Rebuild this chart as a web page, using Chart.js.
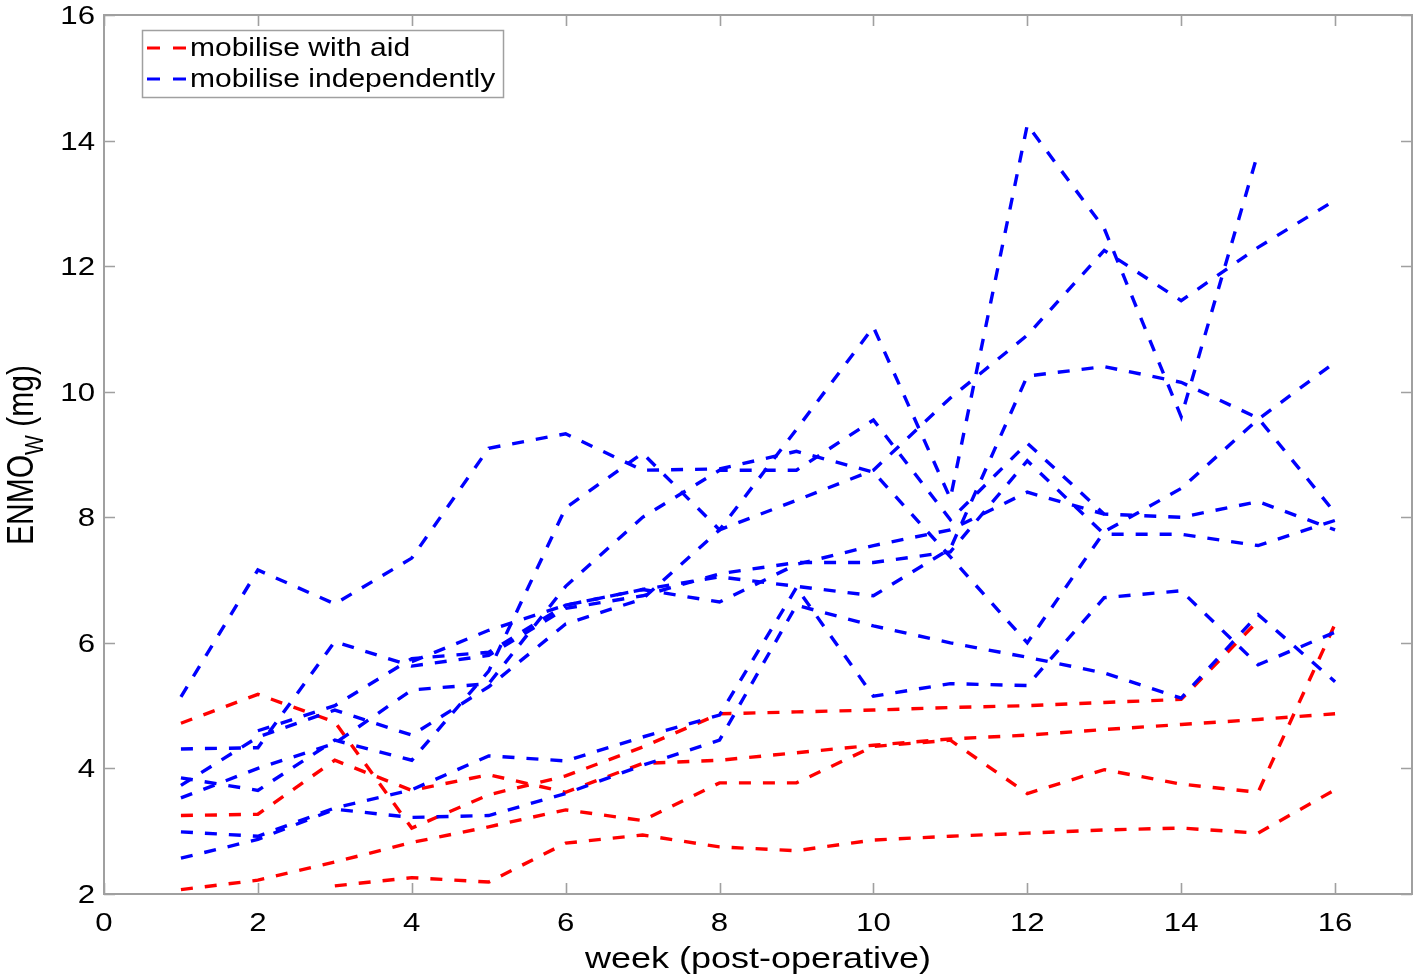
<!DOCTYPE html>
<html><head><meta charset="utf-8">
<script src="https://cdn.jsdelivr.net/npm/chart.js@4.4.1/dist/chart.umd.min.js"></script>
<style>html,body{margin:0;padding:0;background:#fff;}#wrap{width:1418px;height:979px;}</style>
</head><body><div id="wrap"><canvas id="c" width="1418" height="979"></canvas></div>
<script>
// ---- data ----
const weeks = [1,2,3,4,5,6,7,8,9,10,11,12,13,14,15,16];
const xTicks = [0,2,4,6,8,10,12,14,16];
const yTicks = [2,4,6,8,10,12,14,16];
const xTitle = 'week (post-operative)';
const yTitleMain = 'ENMO', yTitleSub = 'W', yTitleUnit = ' (mg)';
const legendAid = 'mobilise with aid';
const legendInd = 'mobilise independently';

// mobilise with aid (red)
const aid1 = [4.72,5.18,4.74,3.05,3.58,3.88,4.34,4.87,4.90,4.93,4.97,5.00,5.05,5.10,6.35,null];
const aid2 = [3.25,3.27,4.13,3.65,3.90,3.62,4.08,4.13,4.25,4.37,4.47,4.53,4.62,4.70,4.78,4.87];
const aid3 = [2.07,2.22,2.51,2.82,3.07,3.34,3.17,3.77,3.77,4.35,4.45,3.60,3.98,3.75,3.62,6.30];
const aid4 = [null,null,2.13,2.26,2.19,2.81,2.94,2.75,2.69,2.86,2.92,2.97,3.02,3.05,2.97,3.66];

// mobilise independently (blue)
const ind1 = [5.14,7.16,6.62,7.35,9.10,9.33,8.75,8.77,9.05,8.72,7.37,6.00,7.77,8.46,9.56,10.47];
const ind2 = [3.85,3.65,4.45,4.13,5.55,8.15,9.02,7.80,9.40,11.03,8.30,14.25,12.60,9.60,13.81,null];
const ind3 = [3.73,4.50,4.93,4.53,5.30,6.30,6.70,7.80,8.27,8.75,9.90,10.90,12.25,11.45,12.30,13.05];
const ind4 = [3.53,4.00,4.40,5.25,5.35,6.90,8.00,8.75,8.75,9.55,7.96,9.18,8.05,8.00,8.25,7.80];
const ind5 = [4.31,4.33,6.02,5.63,5.80,6.55,6.75,7.10,7.28,7.28,7.45,8.90,7.73,7.73,7.55,7.95];
const ind6 = [null,4.60,5.00,5.75,5.85,6.60,6.85,7.05,6.90,6.75,7.50,10.25,10.40,10.15,9.58,8.07];
const ind7 = [null,null,null,5.70,6.20,6.60,6.85,6.65,7.25,7.55,7.80,8.40,8.05,null,null,null];
const ind8 = [2.99,2.92,3.37,3.66,4.20,4.12,4.50,4.85,6.88,5.15,5.35,5.32,6.72,6.83,5.65,6.17];
const ind9 = [2.57,2.87,3.35,3.22,3.25,3.60,4.05,4.45,6.60,6.27,6.00,5.77,5.52,5.12,6.45,5.38];

const aidSeries = [aid1,aid2,aid3,aid4];
const indSeries = [ind1,ind2,ind3,ind4,ind5,ind6,ind7,ind8,ind9];

// ---- styling ----
const RED = '#ff0000', BLUE = '#0000ff';
const AXIS = '#a0a0a0', TEXT = '#000000';
const FONT = '"Liberation Sans", Arial, sans-serif';
const SX = 1.2; // horizontal text stretch seen in the reference
const DASH = [12,12];

function pts(arr){ return weeks.map((w,i)=>({x:w,y:arr[i]})).filter(p=>p.y!==null); }
function ds(arr,color,order){
  return {data:pts(arr),borderColor:color,borderWidth:3.4,borderDash:DASH,pointRadius:0,
          fill:false,tension:0,order:order};
}
const datasets = aidSeries.map(a=>ds(a,RED,2)).concat(indSeries.map(a=>ds(a,BLUE,1)));

function sText(ctx,text,x,y,align,size){
  ctx.save();
  ctx.font = size+'px '+FONT;
  ctx.translate(x,y); ctx.scale(SX,1);
  ctx.textAlign = align; ctx.textBaseline='alphabetic';
  ctx.fillText(text,0,0);
  ctx.restore();
}

const framePlugin = {
  id:'frame',
  afterDraw(chart){
    const ctx = chart.ctx, a = chart.chartArea;
    const xs = chart.scales.x, ys = chart.scales.y;
    ctx.save();
    // box
    ctx.strokeStyle = AXIS; ctx.lineWidth = 2; ctx.setLineDash([]);
    ctx.strokeRect(a.left, a.top, a.right-a.left, a.bottom-a.top);
    // ticks (inward, mirrored)
    const TL = 11;
    ctx.lineWidth = 1.6;
    ctx.beginPath();
    xTicks.forEach(v=>{
      const px = Math.round(xs.getPixelForValue(v))+0.5;
      ctx.moveTo(px,a.bottom); ctx.lineTo(px,a.bottom-TL);
      ctx.moveTo(px,a.top); ctx.lineTo(px,a.top+TL);
    });
    yTicks.forEach(v=>{
      const py = Math.round(ys.getPixelForValue(v))+0.5;
      ctx.moveTo(a.left,py); ctx.lineTo(a.left+TL,py);
      ctx.moveTo(a.right,py); ctx.lineTo(a.right-TL,py);
    });
    ctx.stroke();
    // tick labels
    ctx.fillStyle = TEXT;
    xTicks.forEach(v=>{
      sText(ctx,String(v),xs.getPixelForValue(v),a.bottom+37,'center',26);
    });
    yTicks.forEach(v=>{
      sText(ctx,String(v),a.left-9,ys.getPixelForValue(v)+9,'right',26);
    });
    // x title
    sText(ctx,xTitle,(a.left+a.right)/2,a.bottom+74,'center',30);
    // y title (rotated, with subscript)
    ctx.save();
    ctx.translate(33,455);
    ctx.rotate(-Math.PI/2);
    ctx.scale(1,SX);
    ctx.textBaseline='alphabetic'; ctx.textAlign='left';
    ctx.font = '30px '+FONT; const w1 = ctx.measureText(yTitleMain).width;
    const w3 = ctx.measureText(yTitleUnit).width;
    ctx.font = '21px '+FONT; const w2 = ctx.measureText(yTitleSub).width;
    let x0 = -(w1+w2+w3)/2;
    ctx.font = '30px '+FONT; ctx.fillText(yTitleMain,x0,0);
    ctx.font = '21px '+FONT; ctx.fillText(yTitleSub,x0+w1,8);
    ctx.font = '30px '+FONT; ctx.fillText(yTitleUnit,x0+w1+w2,0);
    ctx.restore();
    // legend
    const L = {x:142,y:30,w:361,h:67};
    ctx.fillStyle = '#ffffff';
    ctx.fillRect(L.x,L.y,L.w,L.h);
    ctx.strokeStyle = AXIS; ctx.lineWidth = 1.5;
    ctx.strokeRect(L.x+0.5,L.y+0.5,L.w,L.h);
    const rows = [{c:RED,t:legendAid,y:48},{c:BLUE,t:legendInd,y:79}];
    rows.forEach(r=>{
      ctx.strokeStyle = r.c; ctx.lineWidth = 3; ctx.setLineDash([13,13]);
      ctx.beginPath(); ctx.moveTo(147,r.y); ctx.lineTo(187,r.y); ctx.stroke();
      ctx.setLineDash([]);
      ctx.fillStyle = TEXT;
      sText(ctx,r.t,190,r.y+8,'left',25);
    });
    ctx.restore();
  }
};

new Chart(document.getElementById('c'),{
  type:'line',
  data:{datasets:datasets},
  options:{
    responsive:false, animation:false, devicePixelRatio:1,
    layout:{padding:{left:0,right:6,top:15,bottom:0}},
    plugins:{legend:{display:false},tooltip:{enabled:false}},
    scales:{
      x:{type:'linear',min:0,max:17,
         grid:{display:false},border:{display:false},ticks:{display:false},
         afterBuildTicks:s=>{s.ticks = xTicks.map(v=>({value:v}));},
         afterFit:s=>{s.height = 85;}},
      y:{type:'linear',min:2,max:16,
         grid:{display:false},border:{display:false},ticks:{display:false},
         afterBuildTicks:s=>{s.ticks = yTicks.map(v=>({value:v}));},
         afterFit:s=>{s.width = 104;}}
    }
  },
  plugins:[framePlugin]
});
</script></body></html>
